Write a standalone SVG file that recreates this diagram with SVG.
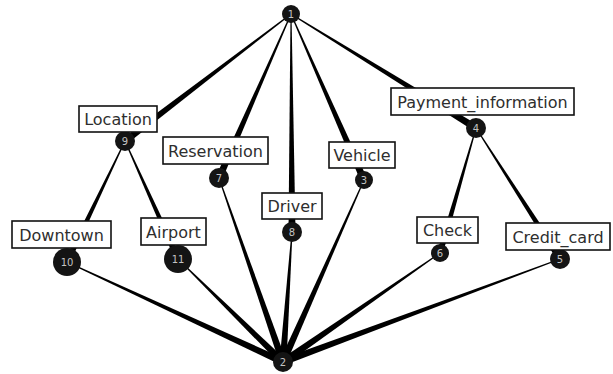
<svg xmlns="http://www.w3.org/2000/svg" width="613" height="374" viewBox="0 0 613 374">
<style>
.e{fill:#000}
.c{fill:#141414}
.n{font-family:"DejaVu Sans",sans-serif;font-size:10px;fill:#c4c4c4;text-anchor:middle}
.b{fill:#fff;stroke:#111;stroke-width:1.6}
.t{font-family:"DejaVu Sans",sans-serif;font-size:16px;fill:#2e2e2e;text-anchor:middle}
</style>
<rect width="613" height="374" fill="#fff"/>
<g id="connectors">
<polygon class="e" points="290.7,13.6 122.87,138.22 127.13,143.78 291.3,14.4"/>
<polygon class="e" points="290.54,13.8 215.8,176.59 222.2,179.41 291.46,14.2"/>
<polygon class="e" points="290.5,14 288.5,232 295.5,232 291.5,14"/>
<polygon class="e" points="290.54,14.2 360.8,181.41 367.2,178.59 291.46,13.8"/>
<polygon class="e" points="290.74,14.43 474.16,130.98 477.84,125.02 291.26,13.57"/>
<polygon class="e" points="124.55,140.78 64.3,260.7 69.7,263.3 125.45,141.22"/>
<polygon class="e" points="124.54,141.2 175.26,260.23 180.74,257.77 125.46,140.8"/>
<polygon class="e" points="475.52,127.86 437.12,252.17 442.88,253.83 476.48,128.14"/>
<polygon class="e" points="475.58,128.27 557.47,260.62 562.53,257.38 476.42,127.73"/>
<polygon class="e" points="66.79,262.45 281.53,365.18 284.47,358.82 67.21,261.55"/>
<polygon class="e" points="177.65,259.36 280.55,364.5 285.45,359.5 178.35,258.64"/>
<polygon class="e" points="218.53,178.16 279.69,363.15 286.31,360.85 219.47,177.84"/>
<polygon class="e" points="291.5,231.97 279.51,361.76 286.49,362.24 292.5,232.03"/>
<polygon class="e" points="363.54,179.8 279.8,360.58 286.2,363.42 364.46,180.2"/>
<polygon class="e" points="439.71,252.59 281,359.12 285,364.88 440.29,253.41"/>
<polygon class="e" points="559.83,258.53 281.78,358.72 284.22,365.28 560.17,259.47"/>
</g>
<g id="node1"><circle class="c" cx="291" cy="14" r="9"/><text class="n" x="291" y="17.5">1</text></g>
<g id="node2"><circle class="c" cx="283" cy="362" r="10"/><text class="n" x="283" y="365.5">2</text></g>
<g id="node9"><circle class="c" cx="125" cy="141" r="10"/><text class="n" x="125" y="144.5">9</text><rect class="b" x="79" y="106" width="78" height="26"/><text class="t" x="118" y="125">Location</text></g>
<g id="node7"><circle class="c" cx="219" cy="178" r="10"/><text class="n" x="219" y="181.5">7</text><rect class="b" x="163" y="137" width="105" height="27"/><text class="t" x="215.5" y="156.5">Reservation</text></g>
<g id="node8"><circle class="c" cx="292" cy="232" r="10"/><text class="n" x="292" y="235.5">8</text><rect class="b" x="262" y="193" width="60" height="26"/><text class="t" x="292" y="212">Driver</text></g>
<g id="node3"><circle class="c" cx="364" cy="180" r="9"/><text class="n" x="364" y="183.5">3</text><rect class="b" x="329" y="142" width="66" height="26"/><text class="t" x="362" y="161">Vehicle</text></g>
<g id="node4"><circle class="c" cx="476" cy="128" r="10"/><text class="n" x="476" y="131.5">4</text><rect class="b" x="391" y="88" width="183" height="27"/><text class="t" x="482.5" y="107.5">Payment_information</text></g>
<g id="node10"><circle class="c" cx="67" cy="262" r="14"/><text class="n" x="67" y="265.5">10</text><rect class="b" x="12" y="221" width="99" height="27"/><text class="t" x="61.5" y="240.5">Downtown</text></g>
<g id="node11"><circle class="c" cx="178" cy="259" r="14"/><text class="n" x="178" y="262.5">11</text><rect class="b" x="141" y="218" width="65" height="27"/><text class="t" x="173.5" y="237.5">Airport</text></g>
<g id="node6"><circle class="c" cx="440" cy="253" r="9"/><text class="n" x="440" y="256.5">6</text><rect class="b" x="417" y="217" width="61" height="26"/><text class="t" x="447.5" y="236">Check</text></g>
<g id="node5"><circle class="c" cx="560" cy="259" r="10"/><text class="n" x="560" y="262.5">5</text><rect class="b" x="506" y="223" width="104" height="27"/><text class="t" x="558" y="242.5">Credit_card</text></g>
</svg>
